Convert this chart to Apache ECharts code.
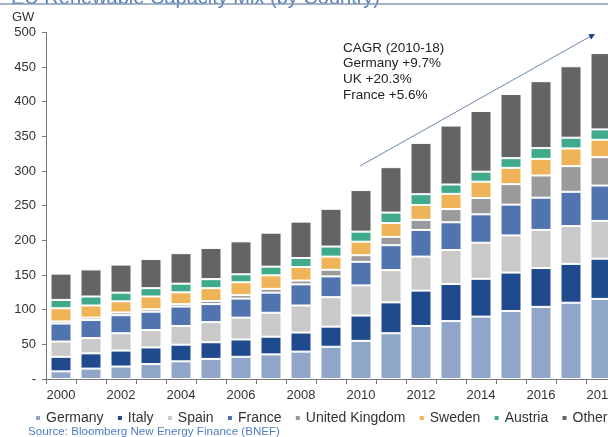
<!DOCTYPE html>
<html>
<head>
<meta charset="utf-8">
<script src="https://cdn.jsdelivr.net/npm/echarts@6/dist/echarts.min.js"></script>
<style>
    html, body { margin: 0; padding: 0; background: #fff; }
    #main { width: 608px; height: 437px; }
</style>
</head>
<body>
<div id="main"></div>
<script>
// EU renewable capacity by country, GW

let years = ["2000", "2001", "2002", "2003", "2004", "2005", "2006", "2007", "2008", "2009",
    "2010", "2011", "2012", "2013", "2014", "2015", "2016", "2017", "2018"]

let germany = [11, 15, 18, 21.5, 25.5, 29, 32, 35.5, 39.5, 46.5, 55, 66, 76.5, 83.5, 90, 98, 104, 110, 115.5]
let italy = [21, 22, 23, 24, 24, 24, 25, 25.5, 27.5, 29, 36.5, 44.5, 51, 53.5, 54.5, 55.5, 56, 56, 58]
let spain = [22, 22, 25, 25, 27, 29, 31.5, 34.5, 39, 42.5, 43.5, 46.5, 49, 49, 52, 53.5, 55, 54.5, 54.5]
let france = [26, 26, 26, 26.5, 28, 26, 27.5, 29, 30.5, 30, 34, 36, 38.5, 40, 41, 44.5, 46.5, 49.5, 51]
let uk = [3, 3.5, 4, 3.5, 3.5, 4.5, 5, 5.5, 5.5, 9.5, 9.5, 12, 14.5, 19, 23.5, 29.5, 32, 37, 41]
let sweden = [19, 17.5, 16, 18.5, 17, 18.5, 18.5, 19.5, 19.5, 19, 19.5, 20, 21.5, 22, 23.5, 23.5, 24, 25.5, 25]
let austria = [12, 13, 12.5, 12, 12.5, 13, 11.5, 12.5, 13, 14.5, 14.5, 15, 15.5, 13.5, 14.5, 14, 15.5, 15.5, 15]
let other = [38, 39, 40.5, 42, 44, 45, 47.5, 49, 52.5, 54.5, 60, 65.5, 74, 85, 87.5, 92.5, 96.5, 103, 110]

let yTicks = [0, 50, 100, 150, 200, 250, 300, 350, 400, 450, 500]

let seriesList = [
    { name: "Germany", data: germany, color: "#8fa6c9" },
    { name: "Italy", data: italy, color: "#1f4a8e" },
    { name: "Spain", data: spain, color: "#c9c9c9" },
    { name: "France", data: france, color: "#5074b0" },
    { name: "United Kingdom", data: uk, color: "#9a9a9a" },
    { name: "Sweden", data: sweden, color: "#eeb457" },
    { name: "Austria", data: austria, color: "#3faa8c" },
    { name: "Other", data: other, color: "#646464" }
]

let font = "Liberation Sans"

function renderEcharts() {
    var myChart = echarts.init(document.getElementById("main"))

    var option = {
        animation: false,
        textStyle: { fontFamily: font },
        // the last bar runs past the right edge, like the source picture
        grid: { left: 46, top: 32.3, bottom: 58, width: 570, containLabel: false, outerBoundsMode: "none" },
        legend: {
            left: 29,
            top: 406,
            width: 700,
            itemGap: 12.3,
            itemWidth: 6,
            itemHeight: 6,
            icon: "rect",
            textStyle: { fontSize: 14, color: "#333", fontFamily: font }
        },
        xAxis: {
            type: "category",
            data: years,
            axisLine: { lineStyle: { color: "#777" } },
            axisTick: { show: true, interval: 0, length: 5, lineStyle: { color: "#777" } },
            axisLabel: { interval: 1, fontSize: 13, color: "#333", margin: 10 }
        },
        yAxis: {
            type: "value",
            min: yTicks[0],
            max: yTicks[yTicks.length - 1],
            interval: 50,
            splitLine: { show: false },
            axisLine: { show: true, lineStyle: { color: "#777" } },
            axisTick: { show: true, length: 4, lineStyle: { color: "#777" } },
            axisLabel: {
                fontSize: 13, color: "#333", margin: 10,
                formatter: v => v === 0 ? "-" : v
            }
        },
        series: seriesList.map(s => ({
            name: s.name,
            type: "bar",
            stack: "total",
            barWidth: 21,
            data: s.data,
            itemStyle: { color: s.color, borderColor: "#fff", borderWidth: 1 }
        })),
        graphic: [
            // title, mostly cut off at the top
            {
                type: "text", left: 11, top: -12,
                style: { text: "EU Renewable Capacity Mix (by Country)", fontSize: 20, fill: "#5b80bd", fontFamily: font }
            },
            {
                type: "line",
                shape: { x1: 0, y1: 4, x2: 608, y2: 4 },
                style: { stroke: "#8a9bb3", lineWidth: 1.5 }
            },
            {
                type: "text", left: 12, top: 11,
                style: { text: "GW", fontSize: 13, fill: "#333", fontFamily: font }
            },
            {
                type: "text", left: 343, top: 40,
                style: {
                    text: "CAGR (2010-18)\nGermany +9.7%\nUK +20.3%\nFrance +5.6%",
                    fontSize: 13.5, lineHeight: 15.7, fill: "#222", fontFamily: font
                }
            },
            // growth arrow
            {
                type: "line",
                shape: { x1: 360, y1: 166, x2: 591, y2: 36 },
                style: { stroke: "#6c86b0", lineWidth: 1 }
            },
            {
                type: "polygon",
                shape: { points: [[595, 34], [591.3, 39.5], [588.3, 34.3]] },
                style: { fill: "#1f3f7a" }
            },
            {
                type: "text", left: 28, top: 426,
                style: { text: "Source: Bloomberg New Energy Finance (BNEF)", fontSize: 11.6, fill: "#4f7ec0", fontFamily: font }
            }
        ]
    }

    myChart.setOption(option)
}

renderEcharts()
</script>
</body>
</html>
